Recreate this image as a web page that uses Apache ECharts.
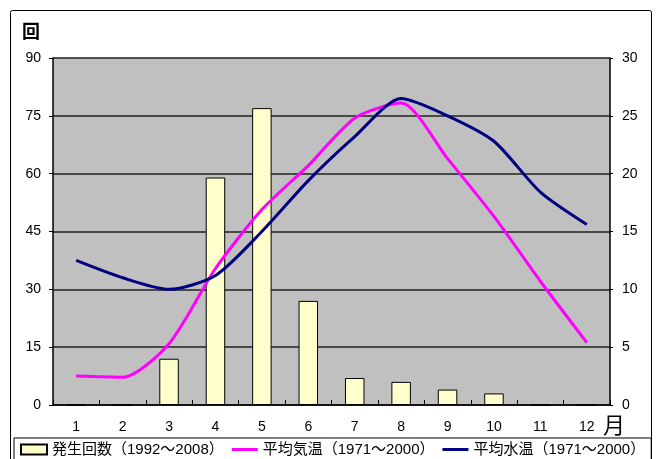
<!DOCTYPE html>
<html>
<head>
<meta charset="utf-8">
<script src="https://cdn.jsdelivr.net/npm/echarts@6/dist/echarts.min.js"></script>
<style>
  html, body { margin: 0; padding: 0; background: #ffffff; }
  #chart { width: 661px; height: 459px; }
</style>
</head>
<body>
<div id="chart"></div>
<script>
// Months on the x axis
const months = ['1', '2', '3', '4', '5', '6', '7', '8', '9', '10', '11', '12'];
// Number of occurrences per month (left axis, 回)
const occurrences = [0, 0, 12, 59, 77, 27, 7, 6, 4, 3, 0, 0];
// Mean air temperature (right axis)
const airTemp = [2.5, 2.4, 5.3, 11.8, 16.9, 20.7, 24.8, 26.1, 21.3, 16.3, 10.7, 5.4];
// Mean water temperature (right axis)
const waterTemp = [12.5, 11.0, 10.0, 11.2, 15.0, 19.4, 23.2, 26.5, 25.0, 22.8, 18.4, 15.6];

const leftTicks = { min: 0, max: 90, interval: 15 };
const rightTicks = { min: 0, max: 30, interval: 5 };

const labelFont = { color: '#000', fontSize: 14, fontFamily: 'Liberation Sans, Arial, sans-serif' };
const cjkFont = 'Liberation Sans, "Noto Sans CJK JP", sans-serif';
// thin bar used as the legend mark for the line series
const lineIcon = 'path://M0,0 L26,0 L26,3 L0,3 Z';

const chart = echarts.init(document.getElementById('chart'), null, { renderer: 'canvas' });

chart.setOption({
  animation: false,
  backgroundColor: '#ffffff',
  grid: { left: 53, right: 51, top: 58, bottom: 54, show: true, backgroundColor: '#C0C0C0', borderWidth: 0 },
  graphic: [
    { type: 'rect', shape: { x: 10.5, y: 10.5, width: 641, height: 470, r: 2 }, style: { fill: null, stroke: '#000', lineWidth: 1 }, z: 0, silent: true },
    { type: 'text', left: 22, top: 22, style: { text: '回', font: 'bold 18px "Noto Sans CJK JP", sans-serif', fill: '#000' } },
    { type: 'text', left: 603, top: 414, style: { text: '月', font: '22px "Noto Sans CJK JP", sans-serif', fill: '#000' } }
  ],
  legend: {
    bottom: -12, left: 14,
    padding: [4, 6, 14, 6],
    itemGap: 8,
    itemWidth: 26, itemHeight: 10,
    borderColor: '#000', borderWidth: 1,
    textStyle: { color: '#000', fontSize: 15, fontFamily: cjkFont },
    data: [
      { name: '発生回数（1992～2008）', icon: 'rect' },
      { name: '平均気温（1971～2000）', icon: lineIcon },
      { name: '平均水温（1971～2000）', icon: lineIcon }
    ]
  },
  xAxis: {
    type: 'category',
    data: months,
    boundaryGap: true,
    axisLine: { lineStyle: { color: '#000', width: 1.5 } },
    axisTick: { show: true, inside: true, length: 5, lineStyle: { color: '#000' } },
    axisLabel: Object.assign({ margin: 15 }, labelFont),
    splitLine: { show: false }
  },
  yAxis: [
    {
      type: 'value', position: 'left',
      min: leftTicks.min, max: leftTicks.max, interval: leftTicks.interval,
      axisLine: { show: true, lineStyle: { color: '#000', width: 1.5 } },
      axisTick: { show: true, length: 4, lineStyle: { color: '#000' } },
      axisLabel: Object.assign({ margin: 12 }, labelFont),
      splitLine: { show: true, lineStyle: { color: '#222', width: 1.5 } }
    },
    {
      type: 'value', position: 'right',
      min: rightTicks.min, max: rightTicks.max, interval: rightTicks.interval,
      axisLine: { show: true, lineStyle: { color: '#000', width: 1.5 } },
      axisTick: { show: true, length: 3, lineStyle: { color: '#000' } },
      axisLabel: Object.assign({ margin: 12 }, labelFont),
      splitLine: { show: false }
    }
  ],
  series: [
    {
      name: '発生回数（1992～2008）',
      type: 'bar',
      yAxisIndex: 0,
      data: occurrences,
      barWidth: '42%',
      itemStyle: { color: '#FFFFCC', borderColor: '#000', borderWidth: 1 },
      z: 2
    },
    {
      name: '平均気温（1971～2000）',
      type: 'line',
      yAxisIndex: 1,
      data: airTemp,
      smooth: 0.25,
      symbol: 'none',
      lineStyle: { color: '#FF00FF', width: 3 },
      itemStyle: { color: '#FF00FF' },
      z: 3
    },
    {
      name: '平均水温（1971～2000）',
      type: 'line',
      yAxisIndex: 1,
      data: waterTemp,
      smooth: 0.25,
      symbol: 'none',
      lineStyle: { color: '#000080', width: 3 },
      itemStyle: { color: '#000080' },
      z: 4
    }
  ]
});
</script>
</body>
</html>
